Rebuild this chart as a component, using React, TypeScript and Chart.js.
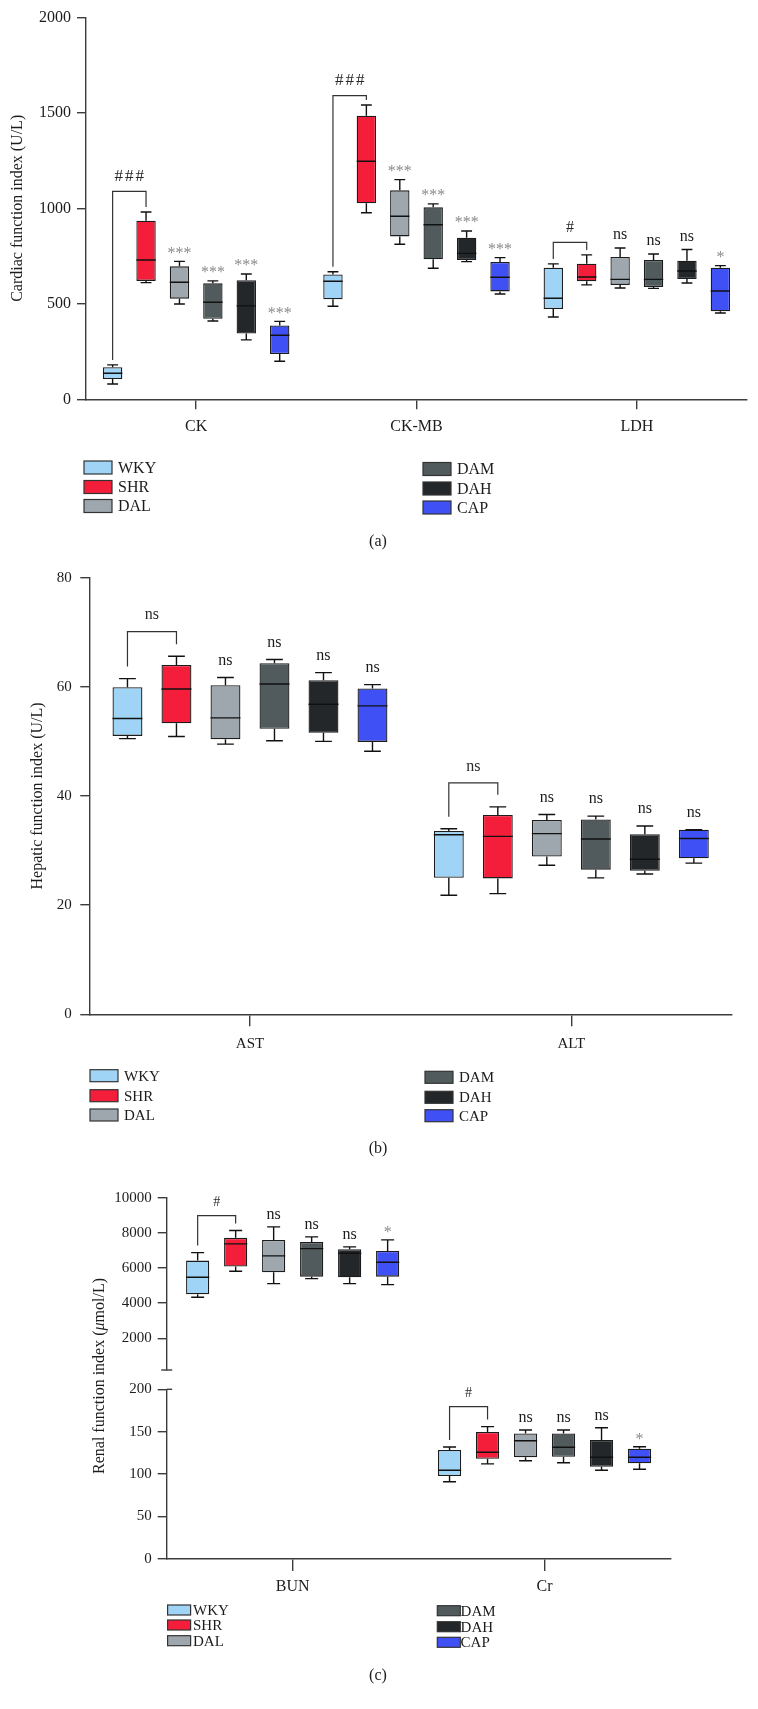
import React, { useEffect, useRef } from 'react';
import { Chart, registerables } from 'chart.js';

Chart.register(...registerables);

const FONT = "'Liberation Serif', 'Times New Roman', serif";
const AXIS_COLOR = '#3c3c3c';
const INK = '#1c1c1c';
const STAR_COLOR = '#8a8a8a';

const groupNames = ['WKY', 'SHR', 'DAL', 'DAM', 'DAH', 'CAP'];
const groupColors = ['#a0d4f7', '#f41e3b', '#9ea7ad', '#515b5d', '#232729', '#3f51f4'];

// Five-number summaries per category: [min, Q1, median, Q3, max]
// (a) Cardiac
const cardiacCategories = ['CK', 'CK-MB', 'LDH'];
const cardiacWKY = [[80, 106, 136, 168, 180], [487, 524, 618, 654, 668], [431, 473, 529, 689, 709]];
const cardiacSHR = [[611, 620, 729, 935, 981], [977, 1026, 1246, 1485, 1541], [599, 618, 640, 710, 756]];
const cardiacDAL = [[499, 527, 613, 696, 722], [812, 853, 958, 1094, 1150], [583, 599, 628, 745, 792]];
const cardiacDAM = [[410, 422, 508, 607, 620], [686, 733, 914, 1005, 1023], [581, 588, 628, 729, 761]];
const cardiacDAH = [[311, 344, 489, 623, 656], [721, 729, 764, 846, 881], [609, 630, 672, 726, 784]];
const cardiacCAP = [[199, 237, 335, 387, 408], [551, 565, 639, 719, 742], [452, 461, 567, 689, 700]];
const cardiacTicks = [0, 500, 1000, 1500, 2000];
const cardiacMarks = [['***', '***', '***', '***'], ['***', '***', '***', '***'], ['ns', 'ns', 'ns', '*']];
const cardiacBrackets = ['###', '###', '#'];
const cardiacBracketLevels = [1089, 1590, 822];

// (b) Hepatic
const hepaticCategories = ['AST', 'ALT'];
const hepaticWKY = [[50.5, 51.0, 54.2, 59.9, 61.5], [21.8, 25.0, 32.9, 33.6, 34.0]];
const hepaticSHR = [[50.9, 53.3, 59.6, 64.0, 65.6], [22.1, 24.9, 32.6, 36.5, 38.0]];
const hepaticDAL = [[49.5, 50.4, 54.3, 60.3, 61.7], [27.3, 28.9, 33.1, 35.6, 36.6]];
const hepaticDAM = [[50.1, 52.3, 60.5, 64.3, 65.0], [25.0, 26.5, 32.1, 35.7, 36.3]];
const hepaticDAH = [[50.0, 51.6, 56.8, 61.2, 62.6], [25.7, 26.3, 28.4, 33.0, 34.5]];
const hepaticCAP = [[48.2, 49.9, 56.5, 59.7, 60.4], [27.7, 28.6, 32.2, 33.8, 33.8]];
const hepaticTicks = [0, 20, 40, 60, 80];
const hepaticMarks = [['ns', 'ns', 'ns', 'ns'], ['ns', 'ns', 'ns', 'ns']];
const hepaticBrackets = ['ns', 'ns'];
const hepaticBracketLevels = [70.1, 42.4];

// (c) Renal
const renalCategories = ['BUN', 'Cr'];
const bunWKY = [4336, 4507, 5476, 6422, 6878];
const bunSHR = [5818, 6080, 7373, 7715, 8131];
const bunDAL = [5111, 5760, 6690, 7601, 8342];
const bunDAM = [5396, 5510, 7105, 7487, 7772];
const bunDAH = [5111, 5476, 6843, 7071, 7202];
const bunCAP = [5054, 5510, 6330, 6974, 7601];
const crWKY = [91, 97.8, 104.5, 128.4, 132];
const crSHR = [112, 118, 125.7, 149.6, 156];
const crDAL = [115.8, 119.8, 139.4, 148, 152];
const crDAM = [113.4, 120.5, 131.6, 148, 152];
const crDAH = [104.5, 108.7, 119.8, 140.2, 154.7];
const crCAP = [105.7, 112.7, 119.8, 130, 132.3];
const bunTicks = [2000, 4000, 6000, 8000, 10000];
const crTicks = [0, 50, 100, 150, 200];
const renalMarks = [['ns', 'ns', 'ns', '*'], ['ns', 'ns', 'ns', '*']];
const renalBrackets = ['#', '#'];
const renalBracketLevels = [8986, 179.5];

function makeBoxDatasets(series: any[][], barPct: number, catPct: number) {
  return groupNames.map((name, g) => ({
    label: name,
    data: series[g].map((s: any) => (s ? [s[1], s[3]] : null)),
    stats: series[g],
    backgroundColor: groupColors[g],
    borderColor: INK,
    borderWidth: 1.3,
    borderSkipped: false,
    barPercentage: barPct,
    categoryPercentage: catPct,
  }));
}

const whiskerPlugin = {
  id: 'whiskers',
  afterDatasetsDraw(chart: any) {
    const ctx = chart.ctx;
    const ys = chart.scales.y;
    const px = (v: number) => ys.getPixelForValue(v);
    chart.data.datasets.forEach((ds: any, di: number) => {
      const meta = chart.getDatasetMeta(di);
      meta.data.forEach((el: any, j: number) => {
        const s = ds.stats[j];
        if (!s) return;
        const x = el.x;
        const w = el.width;
        const c = w * 0.28;
        ctx.save();
        ctx.strokeStyle = '#111';
        ctx.lineWidth = 1.4;
        ctx.beginPath();
        ctx.moveTo(x, px(s[3]));
        ctx.lineTo(x, px(s[4]));
        ctx.moveTo(x - c, px(s[4]));
        ctx.lineTo(x + c, px(s[4]));
        ctx.moveTo(x, px(s[1]));
        ctx.lineTo(x, px(s[0]));
        ctx.moveTo(x - c, px(s[0]));
        ctx.lineTo(x + c, px(s[0]));
        ctx.moveTo(x - w / 2, px(s[2]));
        ctx.lineTo(x + w / 2, px(s[2]));
        ctx.stroke();
        ctx.restore();
      });
    });
  },
};

function makeAnnotationPlugin(o: any) {
  return {
    id: 'sigMarks',
    afterDatasetsDraw(chart: any) {
      const ctx = chart.ctx;
      const ys = chart.scales.y;
      const ds = chart.data.datasets;
      const px = (v: number) => ys.getPixelForValue(v);
      ctx.save();
      ctx.textAlign = 'center';
      ctx.textBaseline = 'middle';
      o.marks.forEach((row: string[], j: number) => {
        row.forEach((t: string, k: number) => {
          const g = k + 2;
          const s = ds[g].stats[j];
          if (!t || !s) return;
          const el = chart.getDatasetMeta(g).data[j];
          const star = t.indexOf('*') >= 0;
          ctx.font = `${o.markSize}px ${FONT}`;
          ctx.fillStyle = star ? STAR_COLOR : INK;
          ctx.fillText(t, el.x, px(s[4]) - o.markGap + (star ? 3 : -2));
        });
      });
      o.brackets.forEach((t: string, j: number) => {
        const a = ds[0].stats[j];
        const b = ds[1].stats[j];
        if (!t || !a || !b) return;
        const ea = chart.getDatasetMeta(0).data[j];
        const eb = chart.getDatasetMeta(1).data[j];
        const yb = px(o.levels[j]);
        ctx.strokeStyle = '#333';
        ctx.lineWidth = 1.2;
        ctx.beginPath();
        ctx.moveTo(ea.x, px(a[4]) - o.legGap);
        ctx.lineTo(ea.x, yb);
        ctx.lineTo(eb.x, yb);
        ctx.lineTo(eb.x, px(b[4]) - o.legGap);
        ctx.stroke();
        const multi = t.length > 1 && t[0] === '#';
        ctx.font = `${multi ? o.hashSize + 1 : o.hashSize}px ${FONT}`;
        (ctx as any).letterSpacing = multi ? '2px' : '0px';
        ctx.fillStyle = '#2a2a2a';
        ctx.fillText(t, (ea.x + eb.x) / 2 + (multi ? 1 : 0), yb - o.textGap);
        (ctx as any).letterSpacing = '0px';
      });
      ctx.restore();
    },
  };
}

function makeFramePlugin(o: any) {
  return {
    id: 'frame',
    afterDraw(chart: any) {
      const ctx = chart.ctx;
      ctx.save();
      if (o.cols) {
        ctx.font = `${o.font}px ${FONT}`;
        ctx.textBaseline = 'middle';
        ctx.textAlign = 'left';
        groupNames.forEach((name, g) => {
          const col = o.cols[g < 3 ? 0 : 1];
          const y = col.rows[g % 3] - o.top;
          ctx.fillStyle = groupColors[g];
          ctx.fillRect(col.boxX, y - o.boxH / 2 - 1, o.boxW, o.boxH);
          ctx.strokeStyle = '#333';
          ctx.lineWidth = 1.2;
          ctx.strokeRect(col.boxX, y - o.boxH / 2 - 1, o.boxW, o.boxH);
          ctx.fillStyle = INK;
          ctx.fillText(name, col.textX, y);
        });
        ctx.textAlign = 'center';
        ctx.font = `16px ${FONT}`;
        ctx.fillText(o.caption, 378, o.captionY - o.top);
      }
      if (o.extra) o.extra(ctx, chart);
      ctx.restore();
    },
  };
}

function buildConfig(p: any) {
  return {
    type: 'bar',
    data: { labels: p.categories, datasets: makeBoxDatasets(p.series, p.barPct, p.catPct) },
    options: {
      responsive: false,
      maintainAspectRatio: false,
      animation: false,
      events: [],
      layout: { padding: { left: 0, right: p.padRight, top: p.padTop, bottom: p.padBottom } },
      plugins: { legend: { display: false }, tooltip: { enabled: false }, title: { display: false } },
      scales: {
        x: {
          display: p.xDisplay,
          offset: true,
          grid: {
            display: true,
            drawOnChartArea: false,
            offset: false,
            tickLength: p.xTickLength,
            color: AXIS_COLOR,
            lineWidth: 1.4,
          },
          border: { display: true, color: AXIS_COLOR, width: 1.4 },
          ticks: {
            font: { family: FONT, size: p.xFont },
            color: INK,
            padding: p.xPadding,
            maxRotation: 0,
            autoSkip: false,
          },
          afterFit: (s: any) => {
            s.height = p.xHeight;
          },
        },
        y: {
          min: p.min,
          max: p.max,
          afterBuildTicks: (s: any) => {
            s.ticks = p.ticks.map((v: number) => ({ value: v }));
          },
          grid: { drawOnChartArea: false, tickLength: 9, color: AXIS_COLOR, lineWidth: 1.4 },
          border: { color: AXIS_COLOR, width: 1.4 },
          ticks: {
            font: { family: FONT, size: p.yFont },
            color: INK,
            padding: p.yPadding,
            callback: (v: any) => String(v),
          },
          title: p.title
            ? {
                display: true,
                text: p.title,
                font: { family: FONT, size: 16 },
                color: INK,
                padding: { top: p.titlePad, bottom: 0 },
              }
            : { display: false },
          afterFit: (s: any) => {
            s.width = p.yWidth;
          },
        },
      },
    },
    plugins: p.plugins,
  };
}

function ChartCanvas({ top, height, build }: { top: number; height: number; build: () => any }) {
  const ref = useRef<HTMLCanvasElement>(null);
  useEffect(() => {
    const chart = new Chart(ref.current as HTMLCanvasElement, build() as any);
    return () => chart.destroy();
  }, []);
  return (
    <canvas
      ref={ref}
      width={758}
      height={height}
      style={{ position: 'absolute', left: 0, top, width: 758, height }}
    />
  );
}

const A_TOP = 0;
const B_TOP = 560;
const C_TOP = 1160;

function buildCardiac() {
  return buildConfig({
    categories: cardiacCategories,
    series: [cardiacWKY, cardiacSHR, cardiacDAL, cardiacDAM, cardiacDAH, cardiacCAP],
    min: 0,
    max: 2000,
    ticks: cardiacTicks,
    barPct: 0.58,
    catPct: 0.91,
    padTop: 17.3,
    padRight: 11,
    padBottom: 0,
    xDisplay: true,
    xHeight: 160.7,
    xFont: 16,
    xPadding: 8,
    xTickLength: 10,
    yWidth: 86,
    yFont: 16,
    yPadding: 6,
    title: 'Cardiac function index (U/L)',
    titlePad: 8.4,
    plugins: [
      whiskerPlugin,
      makeAnnotationPlugin({
        marks: cardiacMarks,
        brackets: cardiacBrackets,
        levels: cardiacBracketLevels,
        markGap: 11,
        textGap: 15,
        legGap: 5,
        markSize: 16,
        hashSize: 16,
      }),
      makeFramePlugin({
        top: A_TOP,
        boxW: 28,
        boxH: 13,
        font: 16,
        cols: [
          { boxX: 84, textX: 118, rows: [468.5, 488, 507] },
          { boxX: 423, textX: 457, rows: [470, 489.5, 508.5] },
        ],
        caption: '(a)',
        captionY: 541.7,
      }),
    ],
  });
}

function buildHepatic() {
  return buildConfig({
    categories: hepaticCategories,
    series: [hepaticWKY, hepaticSHR, hepaticDAL, hepaticDAM, hepaticDAH, hepaticCAP],
    min: 0,
    max: 80,
    ticks: hepaticTicks,
    barPct: 0.61,
    catPct: 0.915,
    padTop: 10.5,
    padRight: 26,
    padBottom: 0,
    xDisplay: true,
    xHeight: 145.7,
    xFont: 15,
    xPadding: 9,
    xTickLength: 12,
    yWidth: 89.3,
    yFont: 15,
    yPadding: 8.6,
    title: 'Hepatic function index (U/L)',
    titlePad: 28.4,
    plugins: [
      whiskerPlugin,
      makeAnnotationPlugin({
        marks: hepaticMarks,
        brackets: hepaticBrackets,
        levels: hepaticBracketLevels,
        markGap: 15,
        textGap: 16.5,
        legGap: 12,
        markSize: 16,
        hashSize: 16,
      }),
      makeFramePlugin({
        top: B_TOP,
        boxW: 28,
        boxH: 12,
        font: 15,
        cols: [
          { boxX: 90, textX: 124, rows: [1076.7, 1096.7, 1116] },
          { boxX: 425, textX: 459, rows: [1078.3, 1098.3, 1116.7] },
        ],
        caption: '(b)',
        captionY: 1149,
      }),
    ],
  });
}

const renalAnnotations = () =>
  makeAnnotationPlugin({
    marks: renalMarks,
    brackets: renalBrackets,
    levels: renalBracketLevels,
    markGap: 10,
    textGap: 13,
    legGap: 7,
    markSize: 16,
    hashSize: 14,
  });

function buildRenalTop() {
  const series = [bunWKY, bunSHR, bunDAL, bunDAM, bunDAH, bunCAP].map((s) => [s, null]);
  return buildConfig({
    categories: renalCategories,
    series,
    min: 200,
    max: 10000,
    ticks: bunTicks,
    barPct: 0.61,
    catPct: 0.905,
    padTop: 37.7,
    padRight: 87.5,
    padBottom: 339,
    xDisplay: false,
    xHeight: 0,
    xFont: 16,
    xPadding: 6,
    xTickLength: 12,
    yWidth: 166.7,
    yFont: 15,
    yPadding: 6,
    plugins: [
      whiskerPlugin,
      renalAnnotations(),
      makeFramePlugin({
        extra: (ctx: any, chart: any) => {
          const x = chart.chartArea.left;
          const y = chart.chartArea.bottom;
          ctx.strokeStyle = AXIS_COLOR;
          ctx.lineWidth = 1.4;
          ctx.beginPath();
          ctx.moveTo(x - 5.5, y);
          ctx.lineTo(x + 5.5, y);
          ctx.stroke();
        },
      }),
    ],
  });
}

function buildRenalBottom() {
  const series = [crWKY, crSHR, crDAL, crDAM, crDAH, crCAP].map((s) => [null, s]);
  return buildConfig({
    categories: renalCategories,
    series,
    min: 0,
    max: 200,
    ticks: crTicks,
    barPct: 0.61,
    catPct: 0.905,
    padTop: 229.3,
    padRight: 87.5,
    padBottom: 0,
    xDisplay: true,
    xHeight: 150.1,
    xFont: 16,
    xPadding: 6,
    xTickLength: 12,
    yWidth: 166.7,
    yFont: 15,
    yPadding: 6,
    plugins: [
      whiskerPlugin,
      renalAnnotations(),
      makeFramePlugin({
        top: C_TOP,
        boxW: 23,
        boxH: 10,
        font: 15,
        cols: [
          { boxX: 167.6, textX: 193, rows: [1611, 1626, 1641.7] },
          { boxX: 437.3, textX: 460.6, rows: [1611.7, 1627.7, 1643.3] },
        ],
        caption: '(c)',
        captionY: 1676,
        extra: (ctx: any, chart: any) => {
          const x = chart.chartArea.left;
          const y = chart.scales.y.getPixelForValue(200);
          ctx.strokeStyle = AXIS_COLOR;
          ctx.lineWidth = 1.4;
          ctx.beginPath();
          ctx.moveTo(x, y);
          ctx.lineTo(x + 5.5, y);
          ctx.stroke();
          // axis title spanning both segments
          const parts: [string, boolean][] = [
            ['Renal function index (', false],
            ['\u03bc', true],
            ['mol/L)', false],
          ];
          const fontOf = (it: boolean) => `${it ? 'italic ' : ''}16px ${FONT}`;
          let total = 0;
          parts.forEach(([t, it]) => {
            ctx.font = fontOf(it);
            total += ctx.measureText(t).width;
          });
          ctx.translate(100, 1376 - C_TOP);
          ctx.rotate(-Math.PI / 2);
          ctx.textAlign = 'left';
          ctx.textBaseline = 'middle';
          ctx.fillStyle = INK;
          let cx = -total / 2;
          parts.forEach(([t, it]) => {
            ctx.font = fontOf(it);
            ctx.fillText(t, cx, 0);
            cx += ctx.measureText(t).width;
          });
        },
      }),
    ],
  });
}

export default function App() {
  return (
    <div
      style={{
        position: 'absolute',
        left: 0,
        top: 0,
        width: 758,
        height: 1709,
        background: '#ffffff',
        overflow: 'hidden',
      }}
    >
      <ChartCanvas top={A_TOP} height={560} build={buildCardiac} />
      <ChartCanvas top={B_TOP} height={600} build={buildHepatic} />
      <ChartCanvas top={C_TOP} height={549} build={buildRenalTop} />
      <ChartCanvas top={C_TOP} height={549} build={buildRenalBottom} />
    </div>
  );
}
